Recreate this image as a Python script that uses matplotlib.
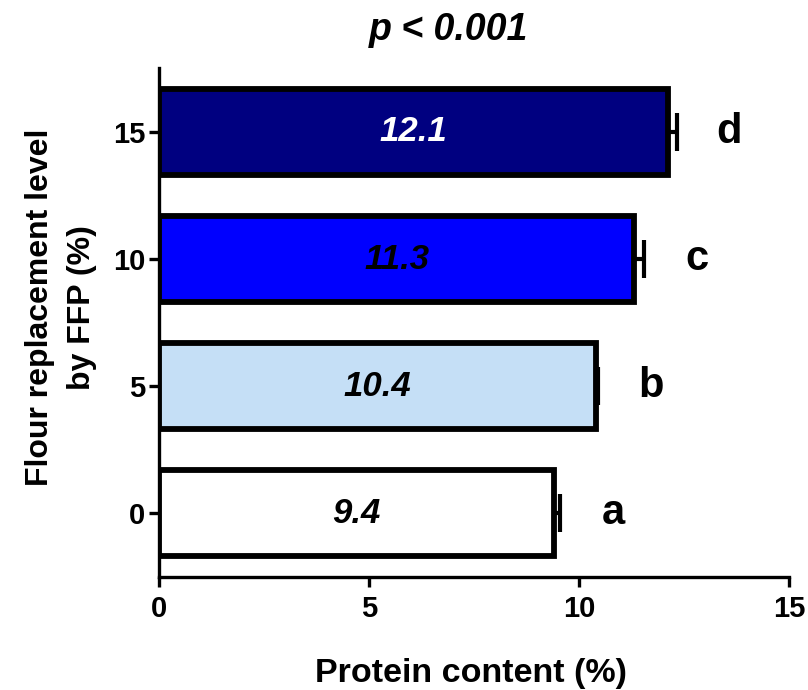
import matplotlib
matplotlib.use('Agg')
import matplotlib.pyplot as plt

plt.rcParams['font.family'] = ['Liberation Sans', 'DejaVu Sans']

# data
levels = [0, 5, 10, 15]
protein = [9.4, 10.4, 11.3, 12.1]
errors = [0.15, 0.05, 0.25, 0.22]
letters = ['a', 'b', 'c', 'd']
value_labels = ['9.4', '10.4', '11.3', '12.1']
colors = ['#FFFFFF', '#C5DFF6', '#0000FF', '#000080']
label_colors = ['black', 'black', 'black', 'white']

fig = plt.figure(figsize=(8.08, 6.90), dpi=100)
ax = fig.add_axes([0.197, 0.164, 0.78, 0.737])

ax.barh(levels, protein, height=3.4, color=colors, edgecolor='black',
        linewidth=4.2, zorder=2)
ax.errorbar(protein, levels, xerr=[[0] * 4, errors], fmt='none',
            ecolor='black', elinewidth=3, capsize=14, capthick=3, zorder=3)

for lv, val, err, txt, lc, let in zip(levels, protein, errors, value_labels,
                                      label_colors, letters):
    ax.text(val / 2, lv, txt, ha='center', va='center', fontsize=25,
            fontweight='bold', fontstyle='italic', color=lc, zorder=4)
    ax.text(val + err + 1.25, lv, let, ha='center', va='center', fontsize=30,
            fontweight='bold')

ax.set_xlim(0, 15)
ax.set_ylim(-2.5, 17.5)
ax.set_xticks([0, 5, 10, 15])
ax.set_yticks(levels)

for side in ['top', 'right']:
    ax.spines[side].set_visible(False)
for side in ['left', 'bottom']:
    ax.spines[side].set_linewidth(2.4)

ax.tick_params(axis='both', width=2.4, length=7, labelsize=21)
ax.tick_params(axis='y', pad=3)
ax.tick_params(axis='x', pad=6)
for lab in ax.get_xticklabels() + ax.get_yticklabels():
    lab.set_fontweight('bold')

ax.set_xlabel('Protein content (%)', fontsize=24.5, fontweight='bold')
ax.xaxis.set_label_coords(0.494, -0.16)
ax.set_ylabel('Flour replacement level\nby FFP (%)', fontsize=23,
              fontweight='bold', linespacing=1.55)
ax.yaxis.set_label_coords(-0.098, 0.53)

fig.text(449 / 808, 1 - 30 / 690, 'p < 0.001', ha='center', va='center',
         fontsize=27, fontweight='bold', fontstyle='italic')

fig.savefig('out.png', dpi=100)
